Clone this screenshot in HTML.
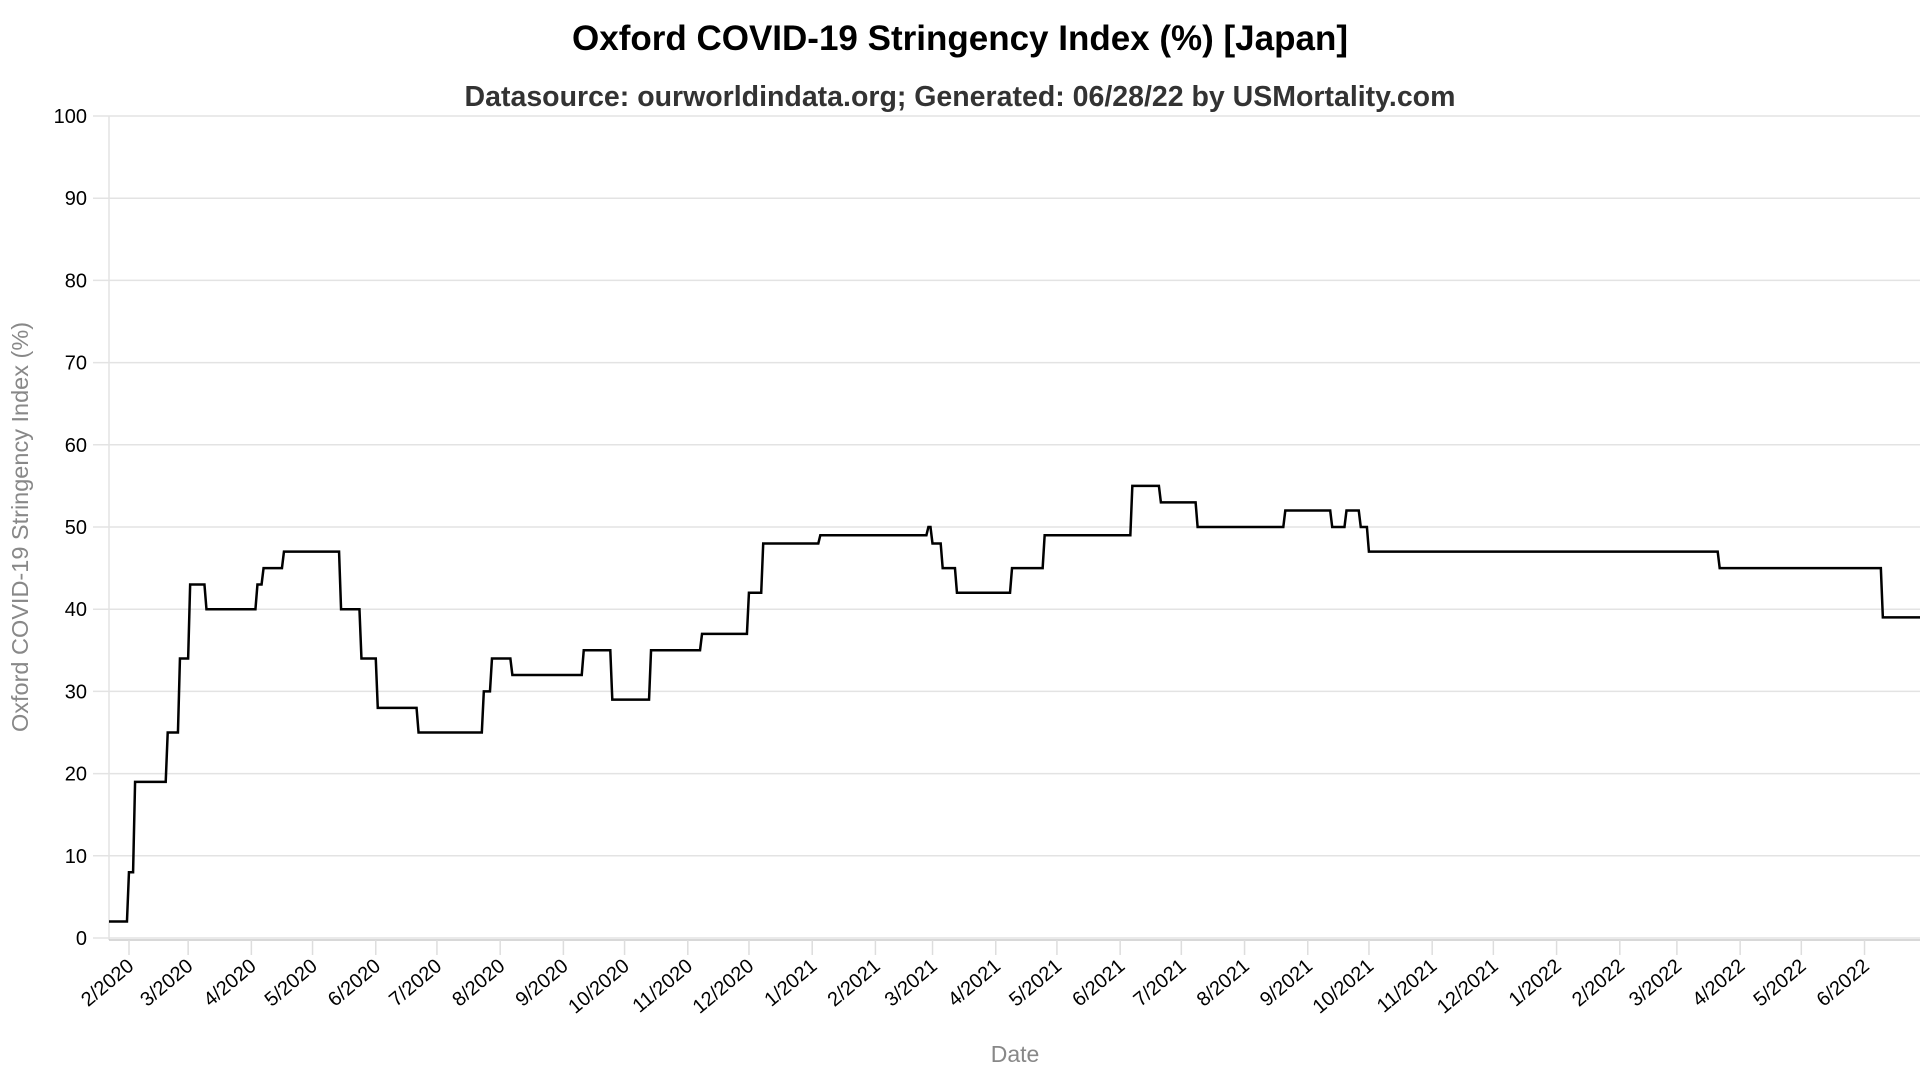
<!DOCTYPE html>
<html><head><meta charset="utf-8"><style>
html,body{margin:0;padding:0;background:#fff;}
svg{display:block;font-family:"Liberation Sans",Arial,sans-serif;}
</style></head><body>
<svg id="chart" width="1920" height="1080" viewBox="0 0 1920 1080">
<text x="960" y="50" text-anchor="middle" font-size="35" font-weight="bold" fill="#000">Oxford COVID-19 Stringency Index (%) [Japan]</text>
<text x="960" y="106" text-anchor="middle" font-size="28.5" font-weight="bold" fill="#333">Datasource: ourworldindata.org; Generated: 06/28/22 by USMortality.com</text>
<g id="grid"></g>
<g id="yticks"></g>
<g id="xticks"></g>
<text transform="translate(28,527) rotate(-90)" text-anchor="middle" font-size="23.5" fill="#888">Oxford COVID-19 Stringency Index (%)</text>
<text x="1015" y="1062" text-anchor="middle" font-size="23" fill="#888">Date</text>
<path id="line" fill="none" stroke="#000" stroke-width="2.5"/>
</svg>
<script>
const dates=["2020-01-22","2020-01-31","2020-02-03","2020-02-19","2020-02-25","2020-03-01","2020-03-09","2020-04-03","2020-04-06","2020-04-16","2020-05-14","2020-05-24","2020-06-01","2020-06-21","2020-07-23","2020-07-27","2020-08-06","2020-09-10","2020-09-24","2020-10-13","2020-11-07","2020-11-30","2020-12-07","2021-01-04","2021-02-26","2021-02-28","2021-03-05","2021-03-12","2021-04-08","2021-04-24","2021-06-06","2021-06-20","2021-07-08","2021-08-20","2021-09-12","2021-09-19","2021-09-26","2021-09-30","2022-03-21","2022-06-09"];
const values=[2,8,19,25,34,43,40,43,45,47,40,34,28,25,30,34,32,35,29,35,37,42,48,49,50,48,45,42,45,49,55,53,50,52,50,52,50,47,45,39];
const endDate="2022-06-27";
const yTicks=[0,10,20,30,40,50,60,70,80,90,100];
const xTickLabels=["2/2020","3/2020","4/2020","5/2020","6/2020","7/2020","8/2020","9/2020","10/2020","11/2020","12/2020","1/2021","2/2021","3/2021","4/2021","5/2021","6/2021","7/2021","8/2021","9/2021","10/2021","11/2021","12/2021","1/2022","2/2022","3/2022","4/2022","5/2022","6/2022"];
const NS="http://www.w3.org/2000/svg";
const L=109,R=1920,Y0=938,Y100=116;
const d0=Date.UTC(2020,1,1),pxDay=2.0394,x0=129;
function dayOf(s){const p=s.split("-");return (Date.UTC(+p[0],+p[1]-1,+p[2])-d0)/86400000;}
function xs(s){return x0+dayOf(s)*pxDay;}
function ys(v){return Y0-(Y0-Y100)*v/100;}
const grid=document.getElementById("grid"),yt=document.getElementById("yticks"),xt=document.getElementById("xticks");
yTicks.forEach(v=>{
 const l=document.createElementNS(NS,"line");
 
 
 l.setAttribute("x1",93);l.setAttribute("x2",R);l.setAttribute("y1",ys(v));l.setAttribute("y2",ys(v));
 l.setAttribute("stroke","#e3e3e3");l.setAttribute("stroke-width","1.5");grid.appendChild(l);
 const t=document.createElementNS(NS,"text");
 
 
 t.setAttribute("x",87);t.setAttribute("y",ys(v)+7);t.setAttribute("text-anchor","end");t.setAttribute("font-size","20");t.textContent=v;yt.appendChild(t);
});
const ax=document.createElementNS(NS,"line");


ax.setAttribute("x1",L);ax.setAttribute("x2",L);ax.setAttribute("y1",Y100);ax.setAttribute("y2",940);ax.setAttribute("stroke","#e3e3e3");ax.setAttribute("stroke-width","1.5");grid.appendChild(ax);
const bx=document.createElementNS(NS,"line");


bx.setAttribute("x1",L);bx.setAttribute("x2",R);bx.setAttribute("y1",940);bx.setAttribute("y2",940);bx.setAttribute("stroke","#ccc");bx.setAttribute("stroke-width","1.5");xt.appendChild(bx);
xTickLabels.forEach(lb=>{
 const p=lb.split("/");const ds=p[1]+"-"+String(p[0]).padStart(2,"0")+"-01";const x=xs(ds);
 const tk=document.createElementNS(NS,"line");
 
 
 tk.setAttribute("x1",x);tk.setAttribute("x2",x);tk.setAttribute("y1",940);tk.setAttribute("y2",955);tk.setAttribute("stroke","#ddd");tk.setAttribute("stroke-width","1.5");xt.appendChild(tk);
 const t=document.createElementNS(NS,"text");
 
 
 t.setAttribute("transform","translate("+(x+6)+",968) rotate(-40)");t.setAttribute("text-anchor","end");t.setAttribute("font-size","20");t.textContent=lb;xt.appendChild(t);
});
let d="";
for(let i=0;i<dates.length;i++){
 const x=xs(dates[i]),y=ys(values[i]);
 if(i===0)d+="M"+L+","+y;else d+=" L"+x+","+ys(values[i-1])+" L"+(x+2)+","+y;
}
d+=" L"+Math.min(R,xs(endDate)+10)+","+ys(values[values.length-1]);
document.getElementById("line").setAttribute("d",d);
</script>
</body></html>
